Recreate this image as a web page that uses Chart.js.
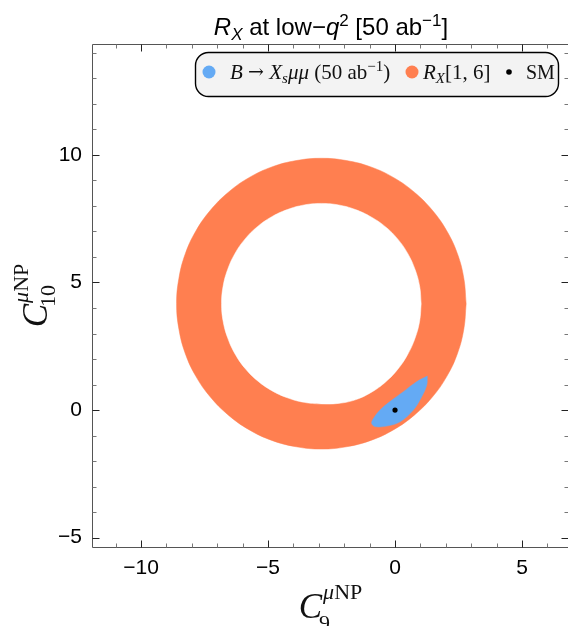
<!DOCTYPE html>
<html>
<head>
<meta charset="utf-8">
<script src="https://cdn.jsdelivr.net/npm/chart.js@4.4.1/dist/chart.umd.min.js"></script>
<style>
  html, body { margin: 0; padding: 0; background: #fff; }
  canvas { display: block; }
</style>
</head>
<body>
<canvas id="chart" width="568" height="626"></canvas>
<script>
// R_X[1,6] allowed ring: outer and inner edge
const ringOuterX = [2.80, 2.71, 2.46, 2.04, 1.47, 0.76, -0.05, -0.95, -1.91, -2.90, -3.89, -4.85, -5.75, -6.56, -7.27, -7.84, -8.26, -8.51,
                    -8.60, -8.51, -8.26, -7.84, -7.27, -6.56, -5.75, -4.85, -3.89, -2.90, -1.91, -0.95, -0.05, 0.76, 1.47, 2.04, 2.46, 2.71, 2.80];
const ringOuterY = [4.17, 5.16, 6.12, 7.02, 7.83, 8.54, 9.11, 9.53, 9.78, 9.87, 9.78, 9.53, 9.11, 8.54, 7.83, 7.02, 6.12, 5.16,
                    4.17, 3.18, 2.22, 1.32, 0.51, -0.20, -0.77, -1.19, -1.44, -1.53, -1.44, -1.19, -0.77, -0.20, 0.51, 1.32, 2.22, 3.18, 4.17];
const ringInnerX = [1.03, 0.97, 0.79, 0.50, 0.11, -0.37, -0.94, -1.56, -2.22, -2.90, -3.58, -4.24, -4.87, -5.43, -5.91, -6.30, -6.59, -6.77,
                    -6.83, -6.77, -6.59, -6.30, -5.91, -5.43, -4.87, -4.24, -3.58, -2.90, -2.22, -1.56, -0.94, -0.37, 0.11, 0.50, 0.79, 0.97, 1.03];
const ringInnerY = [4.17, 4.85, 5.51, 6.14, 6.70, 7.18, 7.57, 7.86, 8.04, 8.10, 8.04, 7.86, 7.57, 7.18, 6.70, 6.14, 5.51, 4.85,
                    4.17, 3.49, 2.83, 2.20, 1.64, 1.16, 0.77, 0.48, 0.30, 0.24, 0.26, 0.40, 0.69, 1.10, 1.60, 2.18, 2.82, 3.49, 4.17];

// B -> X_s mu mu (50 ab^-1) region
const bxsX = [1.27, 0.85, 0.33, -0.20, -0.59, -0.85, -0.92, -0.79, -0.33, 0.20, 0.72, 1.05, 1.25, 1.27];
const bxsY = [1.33, 1.11, 0.72, 0.33, 0.00, -0.33, -0.52, -0.65, -0.63, -0.46, 0.00, 0.52, 0.98, 1.33];

// Standard Model point
const smX = [0];
const smY = [0];

const xRange = [-11.93, 6.81];
const yRange = [-5.37, 14.35];
const xTickLabels = [-10, -5, 0, 5];
const yTickLabels = [-5, 0, 5, 10];

const BLUE = '#64aaf4';
const ORANGE = '#ff7f50';
const SANS = '"Liberation Sans", Arial, sans-serif';
const SERIF = '"Liberation Serif", "Times New Roman", serif';
const ARROW = '"DejaVu Serif", serif';

const toPoints = (xs, ys) => xs.map((x, i) => ({ x: x, y: ys[i] }));
const fmt = v => (v < 0 ? '\u2212' + Math.abs(v) : String(v));

// draws a run of text pieces: [text, font, dy]
function drawRich(ctx, parts, x, y, align) {
  let w = 0;
  parts.forEach(p => { ctx.font = p[1]; w += ctx.measureText(p[0]).width; });
  let cx = align === 'center' ? x - w / 2 : x;
  parts.forEach(p => {
    ctx.font = p[1];
    ctx.fillText(p[0], cx, y + (p[2] || 0));
    cx += ctx.measureText(p[0]).width;
  });
}

const framePlugin = {
  id: 'frame',
  afterDraw(chart) {
    const ctx = chart.ctx;
    const a = chart.chartArea;
    const xs = chart.scales.x, ys = chart.scales.y;
    const L = Math.round(a.left) + 0.5, R = Math.round(a.right) - 0.5;
    const T = Math.round(a.top) + 0.5, B = Math.round(a.bottom) + 0.5;
    ctx.save();

    // frame
    ctx.strokeStyle = '#555';
    ctx.lineWidth = 1;
    ctx.beginPath();
    ctx.moveTo(a.right, T); ctx.lineTo(L, T); ctx.lineTo(L, B); ctx.lineTo(a.right, B);
    ctx.stroke();

    // inward ticks, major every 5
    for (let v = Math.ceil(xRange[0]); v <= Math.floor(xRange[1]); v++) {
      const p = Math.round(xs.getPixelForValue(v)) + 0.5;
      const major = v % 5 === 0;
      const len = major ? 7 : 4;
      ctx.strokeStyle = major ? '#222' : '#777';
      ctx.beginPath();
      ctx.moveTo(p, B); ctx.lineTo(p, B - len);
      ctx.moveTo(p, T); ctx.lineTo(p, T + len);
      ctx.stroke();
    }
    for (let v = Math.ceil(yRange[0]); v <= Math.floor(yRange[1]); v++) {
      const p = Math.round(ys.getPixelForValue(v)) + 0.5;
      const major = v % 5 === 0;
      const len = major ? 7 : 4;
      ctx.strokeStyle = major ? '#222' : '#777';
      ctx.beginPath();
      ctx.moveTo(L, p); ctx.lineTo(L + len, p);
      ctx.moveTo(R + 1, p); ctx.lineTo(R + 1 - len, p);
      ctx.stroke();
    }

    // legend box
    const lx = 195.5, ly = 52.5, lw = 363, lh = 44;
    ctx.beginPath();
    ctx.roundRect(lx, ly, lw, lh, 13);
    ctx.fillStyle = '#f3f3f3';
    ctx.fill();
    ctx.strokeStyle = '#000';
    ctx.lineWidth = 1.4;
    ctx.stroke();

    const my = 72, base = 79;
    ctx.fillStyle = BLUE;
    ctx.beginPath(); ctx.arc(209, my, 6.5, 0, Math.PI * 2); ctx.fill();
    ctx.fillStyle = ORANGE;
    ctx.beginPath(); ctx.arc(412, my, 6.5, 0, Math.PI * 2); ctx.fill();
    ctx.fillStyle = '#000';
    ctx.beginPath(); ctx.arc(509, my, 2.8, 0, Math.PI * 2); ctx.fill();

    const f = 'italic 21px ' + SERIF, n = '21px ' + SERIF;
    const fs = 'italic 15px ' + SERIF, ns = '15px ' + SERIF;
    const ar = '19px ' + ARROW;
    ctx.textBaseline = 'alphabetic';
    ctx.textAlign = 'left';
    ctx.fillStyle = '#111';
    drawRich(ctx, [['B', f], [' ', n], ['\u2192', ar, -1], [' ', n], ['X', f], ['s', fs, 4], ['\u03bc\u03bc', f], [' (50 ab', n], ['\u22121', ns, -8], [')', n]], 230, base);
    drawRich(ctx, [['R', f], ['X', fs, 4], ['[1, 6]', n]], 423, base);
    drawRich(ctx, [['SM', '20px ' + SERIF]], 526, base);

    // title
    const tf = 'italic 24px ' + SANS, tn = '24px ' + SANS;
    const tfs = 'italic 17px ' + SANS, tns = '17px ' + SANS;
    ctx.fillStyle = '#000';
    drawRich(ctx, [['R', tf], ['X', tfs, 5], [' at low\u2212', tn], ['q', tf], ['2', tns, -9], [' [50 ab', tn], ['\u22121', tns, -9], [']', tn]],
      331, 35, 'center');

    ctx.restore();
  }
};

// axis titles: C with the muNP superscript stacked over the index subscript
const axisTitlePlugin = {
  id: 'axisTitles',
  afterDraw(chart) {
    const ctx = chart.ctx;
    const a = chart.chartArea;
    const cf = 'italic 35px ' + SERIF;
    const sf = 'italic 22px ' + SERIF, sn = '22px ' + SERIF;
    const drawC = (sub, subDy) => {
      ctx.font = cf;
      const cw = ctx.measureText('C').width;
      ctx.font = sf;
      const mw = ctx.measureText('\u03bc').width;
      ctx.font = sn;
      const npw = ctx.measureText('NP').width;
      const sw = ctx.measureText(sub).width;
      const total = cw + Math.max(mw + npw, sw);
      let x = -total / 2;
      ctx.font = cf; ctx.fillText('C', x, 0);
      x += cw;
      ctx.font = sf; ctx.fillText('\u03bc', x + 1, -19);
      ctx.font = sn; ctx.fillText('NP', x + 1 + mw, -19);
      ctx.fillText(sub, x - 3, subDy);
    };
    ctx.save();
    ctx.fillStyle = '#111';
    ctx.textAlign = 'left';
    ctx.textBaseline = 'alphabetic';
    ctx.save();
    ctx.translate((a.left + a.right) / 2, 618);
    drawC('9', 12);
    ctx.restore();
    ctx.save();
    ctx.translate(47, 296);
    ctx.rotate(-Math.PI / 2);
    drawC('10', 8);
    ctx.restore();
    ctx.restore();
  }
};

const ctx = document.getElementById('chart').getContext('2d');
new Chart(ctx, {
  type: 'scatter',
  data: {
    datasets: [
      {
        label: 'R_X[1,6]',
        data: toPoints(ringOuterX, ringOuterY),
        showLine: true, fill: 'shape', backgroundColor: ORANGE, borderColor: ORANGE,
        borderWidth: 0.5, pointRadius: 0, tension: 0.4, order: 4
      },
      {
        label: 'ring hole',
        data: toPoints(ringInnerX, ringInnerY),
        showLine: true, fill: 'shape', backgroundColor: '#ffffff', borderColor: '#ffffff',
        borderWidth: 0.5, pointRadius: 0, tension: 0.4, order: 3
      },
      {
        label: 'B -> Xs mu mu (50 ab^-1)',
        data: toPoints(bxsX, bxsY),
        showLine: true, fill: 'shape', backgroundColor: BLUE, borderColor: BLUE,
        borderWidth: 0.5, pointRadius: 0, tension: 0.35, order: 2
      },
      {
        label: 'SM',
        data: toPoints(smX, smY),
        showLine: false, pointRadius: 2.6, pointHoverRadius: 2.6, pointBackgroundColor: '#000', pointBorderWidth: 0, order: 1
      }
    ]
  },
  options: {
    responsive: false,
    animation: false,
    events: [],
    layout: { autoPadding: false, padding: { top: 44, right: 0, left: 0, bottom: 0 } },
    plugins: { legend: { display: false }, tooltip: { enabled: false }, title: { display: false } },
    scales: {
      x: {
        type: 'linear', min: xRange[0], max: xRange[1],
        grid: { display: false, drawTicks: false }, border: { display: false },
        ticks: {
          stepSize: 1, includeBounds: false, autoSkip: false, maxRotation: 0, padding: 9,
          color: '#000', font: { family: SANS, size: 21 },
          callback: v => (xTickLabels.includes(Math.round(v)) && Math.abs(v - Math.round(v)) < 1e-6 ? fmt(Math.round(v)) : '')
        },
        afterFit: s => { s.height = 79; s.paddingLeft = 0; s.paddingRight = 0; }
      },
      y: {
        type: 'linear', min: yRange[0], max: yRange[1],
        grid: { display: false, drawTicks: false }, border: { display: false },
        ticks: {
          stepSize: 1, includeBounds: false, autoSkip: false, padding: 10,
          color: '#000', font: { family: SANS, size: 21 },
          callback: v => (yTickLabels.includes(Math.round(v)) && Math.abs(v - Math.round(v)) < 1e-6 ? fmt(Math.round(v)) : '')
        },
        afterFit: s => { s.width = 92; s.paddingTop = 0; s.paddingBottom = 0; }
      }
    }
  },
  plugins: [framePlugin, axisTitlePlugin]
});
</script>
</body>
</html>
